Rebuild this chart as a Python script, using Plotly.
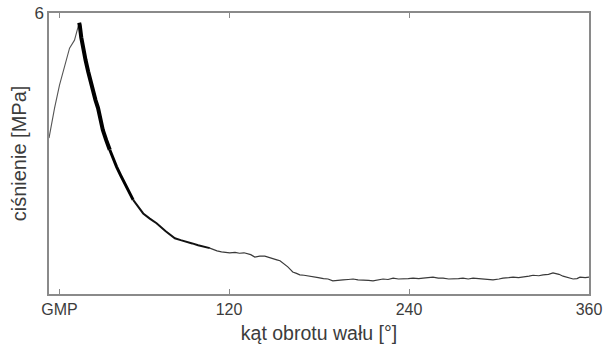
import plotly.graph_objects as go

# crank angle [deg] and pressure [MPa]
rise_x = [0.0, 1.5, 3.7, 7.0, 10.4, 13.7, 17.0, 19.0, 20.1]
rise_y = [3.33, 3.61, 3.97, 4.46, 4.89, 5.25, 5.42, 5.70, 5.79]

peak_x = [20.1, 20.5, 21.5, 22.7, 24.4, 26.1, 27.7, 29.4, 31.0, 32.7, 34.3, 35.9, 38.2, 40.5]
peak_y = [5.79, 5.74, 5.48, 5.25, 4.99, 4.75, 4.53, 4.32, 4.14, 3.97, 3.74, 3.50, 3.28, 3.08]

mid_x = [40.5, 42.8, 45.0, 47.7, 50.5, 53.3, 56.1]
mid_y = [3.08, 2.89, 2.72, 2.54, 2.37, 2.19, 2.01]

decay_x = [56.1, 59.4, 62.8, 67.2, 71.7, 77.8, 83.9, 87.8, 91.6, 95.5, 99.4, 103.3, 107.2]
decay_y = [2.01, 1.86, 1.72, 1.61, 1.51, 1.34, 1.19, 1.15, 1.12, 1.08, 1.04, 1.01, 0.98]

tail_x = [107.2, 109.2, 112.0, 115.0, 118.0, 120.5, 124.0, 127.0, 130.0, 131.9,
          134.5, 137.2, 140.5, 143.9, 147.5, 150.0, 151.9, 154.0, 155.9, 158.0, 159.2, 161.0,
          162.5, 165.0, 167.2, 170.0, 173.0, 175.9, 179.5, 183.0, 186.0, 189.2, 193.0, 196.0,
          199.5, 202.7, 206.0, 209.4, 213.0, 216.0, 219.5, 222.7, 226.0, 229.4, 233.0, 236.0,
          239.5, 242.7, 246.5, 249.4, 253.0, 256.0, 259.5, 262.7, 266.5, 269.4, 273.0, 276.0,
          279.5, 282.7, 286.5, 289.4, 293.0, 296.0, 300.0, 302.7, 306.5, 309.4, 313.0, 316.0,
          320.0, 322.7, 326.5, 329.4, 333.0, 336.0, 340.0, 342.7, 346.5, 349.4, 352.0, 354.0,
          357.5, 360.0]
tail_y = [0.98, 0.95, 0.92, 0.90, 0.89, 0.88, 0.89, 0.87, 0.88, 0.86,
          0.84, 0.79, 0.81, 0.81, 0.78, 0.76, 0.73, 0.71, 0.66, 0.62, 0.58, 0.52,
          0.47, 0.44, 0.41, 0.40, 0.38, 0.36, 0.35, 0.33, 0.32, 0.28, 0.30, 0.30,
          0.31, 0.32, 0.30, 0.30, 0.29, 0.28, 0.30, 0.32, 0.31, 0.34, 0.32, 0.32,
          0.33, 0.34, 0.33, 0.34, 0.35, 0.36, 0.34, 0.34, 0.32, 0.32, 0.33, 0.34,
          0.32, 0.34, 0.33, 0.32, 0.31, 0.30, 0.32, 0.34, 0.35, 0.36, 0.35, 0.36,
          0.38, 0.40, 0.39, 0.41, 0.42, 0.45, 0.42, 0.38, 0.35, 0.32, 0.33, 0.36,
          0.35, 0.36]

x_tickvals = [7, 120, 240, 360]
x_ticktext = ["GMP", "120", "240", "360"]
y_tickvals = [6]
y_ticktext = ["6"]

FONT = "Liberation Sans, Arial"
TXT = "#3c3c3c"

fig = go.Figure()
fig.add_trace(go.Scatter(x=rise_x, y=rise_y, mode="lines",
                         line=dict(color="#555555", width=1.1), showlegend=False))
fig.add_trace(go.Scatter(x=tail_x, y=tail_y, mode="lines",
                         line=dict(color="#3a3a3a", width=1.2), showlegend=False))
fig.add_trace(go.Scatter(x=decay_x, y=decay_y, mode="lines",
                         line=dict(color="#111111", width=2.0), showlegend=False))
fig.add_trace(go.Scatter(x=mid_x, y=mid_y, mode="lines",
                         line=dict(color="#000000", width=3.0), showlegend=False))
fig.add_trace(go.Scatter(x=peak_x, y=peak_y, mode="lines",
                         line=dict(color="#000000", width=4.0), showlegend=False))

axis_common = dict(showline=True, linecolor="#8a8a8a", linewidth=1.5, mirror="ticks",
                   ticks="inside", ticklen=5, tickcolor="#8a8a8a", tickwidth=1,
                   showgrid=False, zeroline=False, automargin=False,
                   tickfont=dict(family=FONT, size=16, color=TXT))

fig.update_layout(
    width=603, height=347,
    margin=dict(l=49, r=14, t=13, b=53),
    paper_bgcolor="white", plot_bgcolor="white",
    xaxis=dict(range=[0, 360], tickvals=x_tickvals, ticktext=x_ticktext,
               title=dict(text="kąt obrotu wału [°]", standoff=9,
                          font=dict(family=FONT, size=19.5, color=TXT)),
               **axis_common),
    yaxis=dict(range=[0, 6], tickvals=y_tickvals, ticktext=y_ticktext,
               tickfont=dict(family=FONT, size=17, color=TXT),
               title=dict(text="ciśnienie [MPa]", standoff=2,
                          font=dict(family=FONT, size=20, color=TXT)),
               **{k: v for k, v in axis_common.items() if k != "tickfont"}),
)

fig.write_html("out.html")
